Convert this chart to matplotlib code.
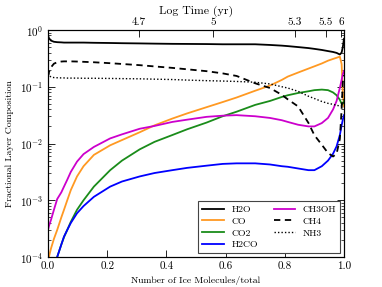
import matplotlib
matplotlib.use("Agg")
import matplotlib.pyplot as plt

plt.rcParams['font.family'] = ['cmr10', 'DejaVu Serif']
plt.rcParams['mathtext.fontset'] = 'cm'
plt.rcParams['axes.formatter.use_mathtext'] = True

frac = [0, 0.003, 0.01, 0.02, 0.031, 0.045, 0.054, 0.065, 0.077, 0.098, 0.12, 0.155,
        0.21, 0.25, 0.31, 0.36, 0.42, 0.47, 0.536, 0.59, 0.637, 0.70, 0.75, 0.79,
        0.81, 0.845, 0.88, 0.90, 0.925, 0.946, 0.963, 0.975, 0.986, 0.992, 0.996, 1.0]

h2o = [0.8, 0.72, 0.65, 0.62, 0.61, 0.605, 0.60, 0.60, 0.60, 0.60, 0.60, 0.595,
       0.59, 0.585, 0.58, 0.575, 0.57, 0.568, 0.565, 0.56, 0.56, 0.56, 0.545, 0.53,
       0.52, 0.50, 0.48, 0.465, 0.445, 0.425, 0.41, 0.395, 0.37, 0.40, 0.5, 0.7]

co = [7.9e-5, 1e-4, 1.41e-4, 2.09e-4, 3.0e-4, 5.0e-4, 6.8e-4, 1.0e-3, 1.51e-3, 2.63e-3,
      3.98e-3, 6.3e-3, 9.3e-3, 0.0115, 0.0158, 0.0209, 0.0275, 0.0339, 0.0437, 0.0537,
      0.0646, 0.0851, 0.105, 0.132, 0.151, 0.178, 0.209, 0.229, 0.257, 0.288, 0.309,
      0.324, 0.339, 0.251, 0.0794, 0.0447]

co2 = [1e-5, 1.58e-5, 2.82e-5, 5.6e-5, 1e-4, 1.66e-4, 2.24e-4, 3.0e-4, 4.17e-4, 6.8e-4,
       1.0e-3, 1.74e-3, 3.39e-3, 5.0e-3, 7.9e-3, 0.0107, 0.0141, 0.0178, 0.0234, 0.0302,
       0.0363, 0.0479, 0.0562, 0.0661, 0.0708, 0.0776, 0.0832, 0.0871, 0.0891, 0.0871,
       0.0794, 0.0708, 0.0589, 0.0501, 0.0501, 0.0562]

h2co = [1e-5, 1.58e-5, 2.82e-5, 5.6e-5, 1e-4, 1.66e-4, 2.29e-4, 3.0e-4, 3.98e-4, 5.9e-4,
        7.9e-4, 1.15e-3, 1.74e-3, 2.14e-3, 2.63e-3, 3.02e-3, 3.39e-3, 3.72e-3, 4.07e-3,
        4.37e-3, 4.47e-3, 4.47e-3, 4.27e-3, 3.98e-3, 3.89e-3, 3.63e-3, 3.39e-3, 3.39e-3,
        3.98e-3, 5.0e-3, 6.6e-3, 8.9e-3, 0.0141, 0.0209, 0.0263, 0.0316]

ch3oh = [3.0e-4, 3.5e-4, 4.5e-4, 6.8e-4, 1.05e-3, 1.38e-3, 1.74e-3, 2.3e-3, 3.16e-3,
         4.8e-3, 6.5e-3, 8.7e-3, 0.0123, 0.0145, 0.0182, 0.0204, 0.024, 0.0263, 0.0295,
         0.0309, 0.0316, 0.0302, 0.0282, 0.0257, 0.024, 0.0214, 0.020, 0.020, 0.0229,
         0.0282, 0.0398, 0.0562, 0.0955, 0.132, 0.166, 0.19]

ch4 = [0.15, 0.18, 0.22, 0.255, 0.27, 0.278, 0.28, 0.28, 0.28, 0.278, 0.275, 0.27,
       0.26, 0.252, 0.24, 0.228, 0.215, 0.203, 0.188, 0.172, 0.155, 0.115, 0.095, 0.072,
       0.06, 0.045, 0.023, 0.014, 0.0095, 0.0068, 0.0059, 0.0066, 0.012, 0.04, 0.12, 0.16]

nh3 = [0.2, 0.16, 0.148, 0.145, 0.144, 0.143, 0.143, 0.142, 0.142, 0.142, 0.141, 0.141,
       0.14, 0.139, 0.138, 0.136, 0.134, 0.131, 0.128, 0.126, 0.124, 0.12, 0.112, 0.10,
       0.095, 0.083, 0.068, 0.062, 0.055, 0.051, 0.049, 0.047, 0.046, 0.046, 0.05, 0.06]

top_ticks_pos = [0.307, 0.557, 0.834, 0.939, 0.990]
top_ticks_lab = ['4.7', '5', '5.3', '5.5', '6']

fig = plt.figure(figsize=(3.82, 2.87), dpi=100)
ax = fig.add_axes([0.1257, 0.1045, 0.7748, 0.791])

lw = 1.3
ax.plot(frac, h2o, color='black', lw=lw, label='H2O')
ax.plot(frac, co, color='#ff9922', lw=lw, label='CO')
ax.plot(frac, co2, color='#1a8c1a', lw=lw, label='CO2')
ax.plot(frac, h2co, color='#0000ff', lw=lw, label='H2CO')
ax.plot(frac, ch3oh, color='#cc00cc', lw=lw, label='CH3OH')
ax.plot(frac, ch4, color='black', lw=lw, ls=(0, (3.5, 2.5)), label='CH4')
ax.plot(frac, nh3, color='black', lw=1.0, ls=(0, (1, 1.5)), label='NH3')

ax.set_yscale('log')
ax.set_xlim(0, 1)
ax.set_ylim(1e-4, 1)
ax.set_xticks([0, 0.2, 0.4, 0.6, 0.8, 1.0])
ax.set_xticklabels(['0.0', '0.2', '0.4', '0.6', '0.8', '1.0'])
ax.tick_params(which='both', direction='in', right=True, top=False, labelsize=8)
ax.tick_params(which='major', length=5, width=0.6)
ax.tick_params(which='minor', length=2.5, width=0.5)
ax.set_xlabel('Number of Ice Molecules/total', fontsize=7, labelpad=3)
ax.set_ylabel('Fractional Layer Composition', fontsize=7, labelpad=4)
for s in ax.spines.values():
    s.set_linewidth(0.8)

ax2 = ax.twiny()
ax2.set_xlim(0, 1)
ax2.set_xticks(top_ticks_pos)
ax2.set_xticklabels(top_ticks_lab)
ax2.tick_params(direction='in', labelsize=8, length=5, width=0.6, pad=2)
ax2.set_xlabel('Log Time (yr)', fontsize=8.5, labelpad=3)

leg = ax.legend(loc='lower right', ncol=2, fontsize=7, frameon=True, fancybox=False,
                edgecolor='#444444', framealpha=1, handlelength=2.2, columnspacing=1.6,
                labelspacing=0.3, borderaxespad=0.4)
leg.get_frame().set_linewidth(0.8)

fig.savefig('out.png', dpi=100)
